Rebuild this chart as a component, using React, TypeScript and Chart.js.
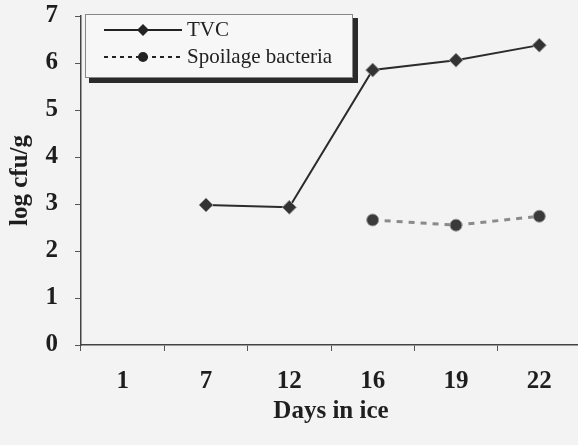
import React, { useEffect, useRef } from 'react';
import { Chart, registerables } from 'chart.js';

Chart.register(...registerables);

const days = ['1', '7', '12', '16', '19', '22'];
const tvc = [null, 2.98, 2.93, 5.85, 6.06, 6.38];
const spoilage = [null, null, null, 2.66, 2.55, 2.74];
const yTicks = [0, 1, 2, 3, 4, 5, 6, 7];
const seriesNames = ['TVC', 'Spoilage bacteria'];
const xTitle = 'Days in ice';
const yTitle = 'log cfu/g';

const SERIF = '"Liberation Serif", "Times New Roman", serif';

function drawMarker(ctx: CanvasRenderingContext2D, style: string, x: number, y: number, r: number, color: string) {
  ctx.save();
  ctx.fillStyle = color;
  ctx.beginPath();
  if (style === 'rectRot') {
    ctx.moveTo(x, y - r);
    ctx.lineTo(x + r, y);
    ctx.lineTo(x, y + r);
    ctx.lineTo(x - r, y);
    ctx.closePath();
  } else {
    ctx.arc(x, y, r, 0, Math.PI * 2);
  }
  ctx.fill();
  ctx.restore();
}

const boxLegend = {
  id: 'boxLegend',
  afterDraw(chart: any) {
    const { ctx, chartArea } = chart;
    const x0 = chartArea.left + 4;
    const y0 = chartArea.top - 2;
    const w = 268;
    const h = 64;
    ctx.save();
    // shadow
    ctx.fillStyle = '#2a2a2a';
    ctx.fillRect(x0 + 4, y0 + h, w, 5);
    ctx.fillRect(x0 + w, y0 + 4, 5, h + 1);
    // box
    ctx.fillStyle = '#f7f7f7';
    ctx.fillRect(x0, y0, w, h);
    ctx.strokeStyle = '#888';
    ctx.lineWidth = 1;
    ctx.strokeRect(x0 + 0.5, y0 + 0.5, w - 1, h - 1);

    const specs = [
      { dash: [] as number[], style: 'rectRot', r: 6 },
      { dash: [4, 4], style: 'circle', r: 5 },
    ];
    seriesNames.forEach((name, i) => {
      const y = y0 + 16 + i * 27;
      const sp = specs[i];
      ctx.strokeStyle = '#222';
      ctx.lineWidth = 2;
      ctx.setLineDash(sp.dash);
      ctx.beginPath();
      ctx.moveTo(x0 + 19, y);
      ctx.lineTo(x0 + 97, y);
      ctx.stroke();
      ctx.setLineDash([]);
      drawMarker(ctx, sp.style, x0 + 58, y, sp.r, '#222');
      ctx.fillStyle = '#222';
      ctx.font = `normal 21px ${SERIF}`;
      ctx.textBaseline = 'middle';
      ctx.textAlign = 'left';
      ctx.fillText(name, x0 + 102, y);
    });
    ctx.restore();
  },
};

export default function App() {
  const ref = useRef<HTMLCanvasElement | null>(null);

  useEffect(() => {
    document.body.style.margin = '0';
    document.body.style.overflow = 'hidden';
    document.body.style.background = '#f3f3f3';
    const canvas = ref.current;
    if (!canvas) return;
    const chart = new Chart(canvas, {
      type: 'line',
      data: {
        labels: days,
        datasets: [
          {
            label: seriesNames[0],
            data: tvc,
            borderColor: '#2b2b2b',
            borderWidth: 2,
            pointStyle: 'rectRot',
            pointRadius: 7,
            pointBackgroundColor: '#333',
            pointBorderColor: '#999',
            pointBorderWidth: 1,
            spanGaps: false,
            tension: 0,
          },
          {
            label: seriesNames[1],
            data: spoilage,
            borderColor: '#8a8a8a',
            borderWidth: 3,
            borderDash: [6, 6],
            pointStyle: 'circle',
            pointRadius: 6,
            pointBackgroundColor: '#3a3a3a',
            pointBorderColor: '#999',
            pointBorderWidth: 1,
            tension: 0,
          },
        ],
      },
      options: {
        animation: false,
        responsive: true,
        maintainAspectRatio: false,
        layout: { padding: { left: 6, top: 16, right: 0, bottom: 0 } },
        plugins: {
          legend: { display: false },
          tooltip: { enabled: false },
        },
        scales: {
          x: {
            type: 'category',
            offset: true,
            afterFit: (s: any) => {
              s.height = 100;
              s.paddingLeft = 0;
              s.paddingRight = 0;
            },
            grid: {
              drawOnChartArea: false,
              tickLength: 6,
              tickColor: '#555',
              offset: true,
            },
            border: { color: '#444', width: 1.5 },
            ticks: {
              color: '#1e1e1e',
              font: { family: SERIF, size: 25, weight: 'bold' },
              padding: 16,
              maxRotation: 0,
            },
            title: {
              display: true,
              text: xTitle,
              color: '#1e1e1e',
              font: { family: SERIF, size: 25, weight: 'bold' },
              padding: { top: 0, bottom: 18 },
            },
          },
          y: {
            min: 0,
            max: 7,
            afterFit: (s: any) => {
              s.width = 75;
              s.paddingTop = 0;
              s.paddingBottom = 0;
            },
            afterBuildTicks: (s: any) => {
              s.ticks = yTicks.map((v) => ({ value: v }));
            },
            grid: {
              drawOnChartArea: false,
              tickLength: 6,
              tickColor: '#555',
            },
            border: { color: '#444', width: 1.5 },
            ticks: {
              color: '#1e1e1e',
              font: { family: SERIF, size: 25, weight: 'bold' },
              padding: 17,
            },
            title: {
              display: true,
              text: yTitle,
              color: '#1e1e1e',
              font: { family: SERIF, size: 25, weight: 'bold' },
              padding: { top: 0, bottom: 0 },
            },
          },
        },
      },
      plugins: [boxLegend],
    });
    return () => chart.destroy();
  }, []);

  return (
    <div style={{ width: 578, height: 445, overflow: 'hidden' }}>
      <div style={{ width: 589, height: 445, position: 'relative' }}>
        <canvas ref={ref} />
      </div>
    </div>
  );
}
